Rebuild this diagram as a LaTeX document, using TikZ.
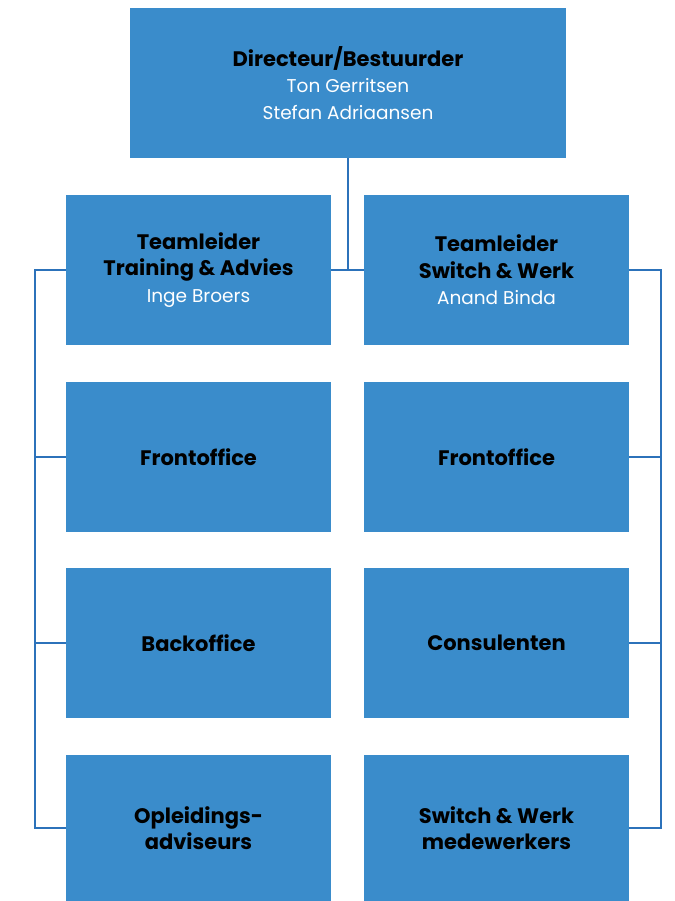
\documentclass[tikz,border=0pt]{standalone}
\usepackage{fontspec}
\setmainfont{Poppins}
\newfontfamily\namefont{Poppins}
\definecolor{boxblue}{HTML}{3A8CCB}
\definecolor{lineblue}{HTML}{2C72BA}
\begin{document}
\begin{tikzpicture}[x=1pt,y=-1pt,
  orgbox/.style={fill=boxblue, draw=none, minimum width=265pt, minimum height=150pt, inner sep=0pt,
    align=center, font=\fontsize{21}{26.5}\selectfont\bfseries, text=black},
  conn/.style={draw=lineblue, line width=2pt}]
\useasboundingbox (0,0) rectangle (674,901);
\newcommand{\nme}[1]{{\namefont\fontsize{18.5}{26.5}\selectfont\mdseries\color{white}#1}}
\node[orgbox, minimum width=436pt] (dir) at (348,83) {Directeur/Bestuurder\\\nme{Ton Gerritsen}\\\nme{Stefan Adriaansen}};
\node[orgbox] (tl) at (198.5,270) {Teamleider\\Training \& Advies\\\nme{Inge Broers}};
\node[orgbox] (tr) at (496.5,270) {Teamleider\\Switch \& Werk\\\nme{Anand Binda}};
\node[orgbox] (lf) at (198.5,457) {Frontoffice};
\node[orgbox] (rf) at (496.5,457) {Frontoffice};
\node[orgbox] (lb) at (198.5,643) {Backoffice};
\node[orgbox] (rc) at (496.5,643) {Consulenten};
\node[orgbox, minimum height=146pt] (lo) at (198.5,828) {Opleidings-\\adviseurs};
\node[orgbox, minimum height=146pt] (rs) at (496.5,828) {Switch \& Werk\\medewerkers};
\coordinate (mid) at (348,270);
\coordinate (lbus) at (35,270);
\coordinate (rbus) at (661,270);
\draw[conn] (dir.south) -- (mid);
\draw[conn] (tl.east) -- (tr.west);
\draw[conn] (tl.west) -- (lbus) -- (lbus |- lo.west) -- (lo.west);
\draw[conn] (lbus |- lf.west) -- (lf.west);
\draw[conn] (lbus |- lb.west) -- (lb.west);
\draw[conn] (tr.east) -- (rbus) -- (rbus |- rs.east) -- (rs.east);
\draw[conn] (rbus |- rf.east) -- (rf.east);
\draw[conn] (rbus |- rc.east) -- (rc.east);
\end{tikzpicture}
\end{document}
